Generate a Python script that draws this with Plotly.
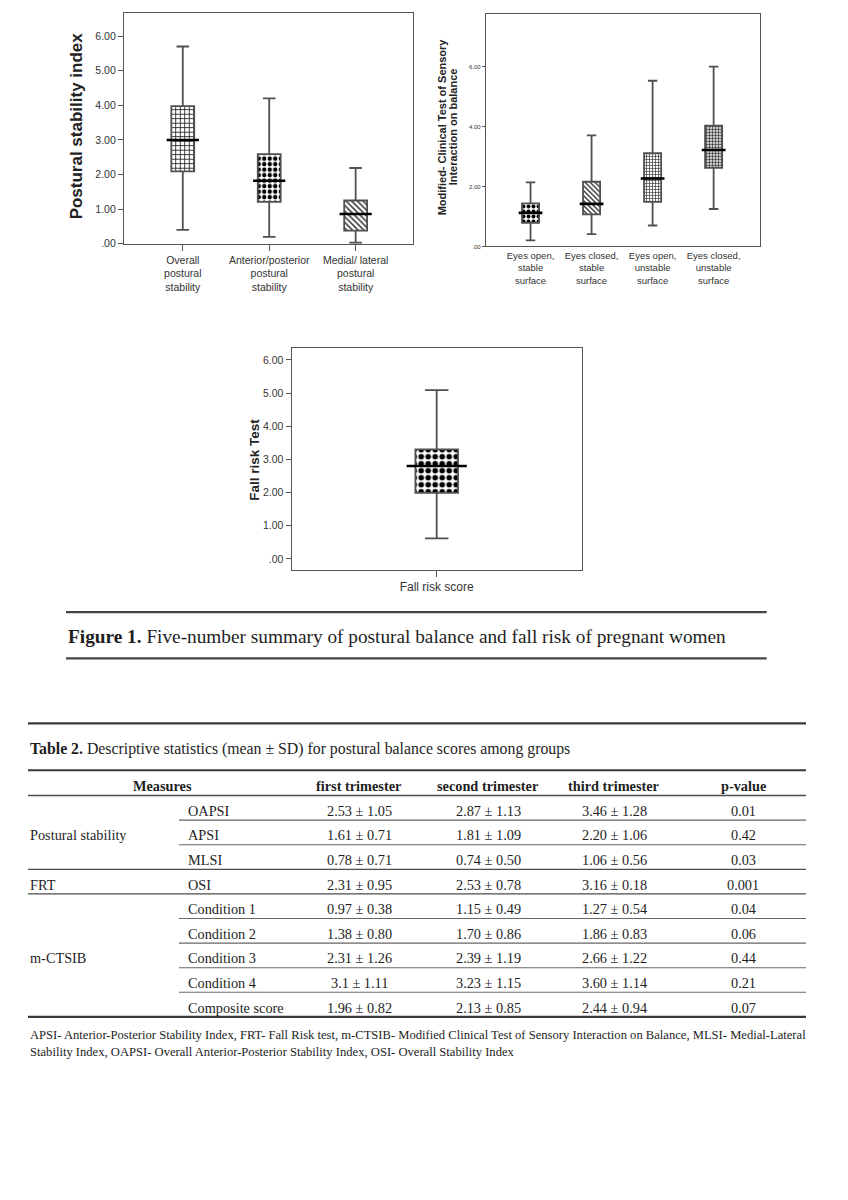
import plotly.graph_objects as go

# ---------------- data ----------------
# Chart 1: postural stability index
ps_cats = ["Overall<br>postural<br>stability",
           "Anterior/posterior<br>postural<br>stability",
           "Medial/ lateral<br>postural<br>stability"]
ps_min = [0.40, 0.20, 0.03]
ps_q1 = [2.09, 1.21, 0.38]
ps_med = [3.00, 1.82, 0.86]
ps_q3 = [3.98, 2.59, 1.25]
ps_max = [5.70, 4.20, 2.19]
ps_ticks = [0, 1, 2, 3, 4, 5, 6]
ps_ticktext = [".00", "1.00", "2.00", "3.00", "4.00", "5.00", "6.00"]

# Chart 2: m-CTSIB
ct_cats = ["Eyes open,<br>stable<br>surface",
           "Eyes closed,<br>stable<br>surface",
           "Eyes open,<br>unstable<br>surface",
           "Eyes closed,<br>unstable<br>surface"]
ct_min = [0.20, 0.41, 0.70, 1.25]
ct_q1 = [0.79, 1.07, 1.49, 2.62]
ct_med = [1.12, 1.42, 2.27, 3.22]
ct_q3 = [1.44, 2.16, 3.11, 4.03]
ct_max = [2.14, 3.71, 5.53, 6.00]
ct_ticks = [0, 2, 4, 6]
ct_ticktext = [".00", "2.00", "4.00", "6.00"]

# Chart 3: fall risk
fr_cats = ["Fall risk score"]
fr_min = [0.62]
fr_q1 = [1.99]
fr_med = [2.80]
fr_q3 = [3.30]
fr_max = [5.09]
fr_ticks = [0, 1, 2, 3, 4, 5, 6]
fr_ticktext = [".00", "1.00", "2.00", "3.00", "4.00", "5.00", "6.00"]

# Table 2
tbl_header = ["Measures", "first trimester", "second trimester", "third trimester", "p-value"]
tbl_groups = ["Postural stability", "FRT", "m-CTSIB"]
tbl_group_sizes = [3, 1, 5]
tbl_measures = ["OAPSI", "APSI", "MLSI", "OSI", "Condition 1", "Condition 2",
                "Condition 3", "Condition 4", "Composite score"]
tbl_first = ["2.53 ± 1.05", "1.61 ± 0.71", "0.78 ± 0.71", "2.31 ± 0.95", "0.97 ± 0.38",
             "1.38 ± 0.80", "2.31 ± 1.26", "3.1 ± 1.11", "1.96 ± 0.82"]
tbl_second = ["2.87 ± 1.13", "1.81 ± 1.09", "0.74 ± 0.50", "2.53 ± 0.78", "1.15 ± 0.49",
              "1.70 ± 0.86", "2.39 ± 1.19", "3.23 ± 1.15", "2.13 ± 0.85"]
tbl_third = ["3.46 ± 1.28", "2.20 ± 1.06", "1.06 ± 0.56", "3.16 ± 0.18", "1.27 ± 0.54",
             "1.86 ± 0.83", "2.66 ± 1.22", "3.60 ± 1.14", "2.44 ± 0.94"]
tbl_p = ["0.01", "0.42", "0.03", "0.001", "0.04", "0.06", "0.44", "0.21", "0.07"]

fig_caption = "<b>Figure 1.</b> Five-number summary of postural balance and fall risk of pregnant women"
tbl_title = "<b>Table 2.</b> Descriptive statistics (mean ± SD) for postural balance scores among groups"
tbl_foot = ["APSI- Anterior-Posterior Stability Index, FRT- Fall Risk test, m-CTSIB- Modified Clinical Test of Sensory Interaction on Balance, MLSI- Medial-Lateral",
            "Stability Index, OAPSI- Overall Anterior-Posterior Stability Index, OSI- Overall Stability Index"]

# ---------------- layout helpers ----------------
W, H = 848, 1200


def px(x):
    return x / W


def py(y):
    return 1 - y / H


SANS = "Liberation Sans"
SERIF = "Liberation Serif"
TXT = "#1e1e1e"
AX = "#555555"

fig = go.Figure()


def add_boxes(cats, mn, q1, med, q3, mx, patterns, xa, ya, wdata, wpx):
    # patterned fill of each box (q1..q3)
    for i, c in enumerate(cats):
        shape, size, sol, fg = patterns[i]
        fig.add_trace(go.Bar(
            x=[c], y=[q3[i] - q1[i]], base=[q1[i]], width=wdata,
            marker=dict(color="white", line=dict(width=0),
                        pattern=dict(shape=shape, size=size, solidity=sol,
                                     fgcolor=fg, fgopacity=1, bgcolor="white",
                                     fillmode="overlay")),
            xaxis=xa, yaxis=ya, showlegend=False, hoverinfo="skip"))
    fig.add_trace(go.Box(
        x=cats, q1=q1, median=med, q3=q3, lowerfence=mn, upperfence=mx,
        width=wdata, whiskerwidth=0.55, boxpoints=False,
        fillcolor="rgba(0,0,0,0)", line=dict(color="#505050", width=1.8),
        xaxis=xa, yaxis=ya, showlegend=False))
    fig.add_trace(go.Scatter(
        x=cats, y=med, mode="markers",
        marker=dict(symbol="line-ew", size=wpx, color="black",
                    line=dict(color="black", width=2.6)),
        xaxis=xa, yaxis=ya, showlegend=False, hoverinfo="skip"))


add_boxes(ps_cats, ps_min, ps_q1, ps_med, ps_q3, ps_max,
          [("+", 4.5, 0.35, "#222"), (".", 5.5, 0.5, "black"), ("\\", 4, 0.35, "#222")],
          "x", "y", 0.265, 23)
add_boxes(ct_cats, ct_min, ct_q1, ct_med, ct_q3, ct_max,
          [(".", 5, 0.5, "black"), ("\\", 3.5, 0.4, "#333"),
           ("+", 3, 0.4, "#333"), (".", 3, 0.5, "#333")],
          "x2", "y2", 0.28, 17)
add_boxes(fr_cats, fr_min, fr_q1, fr_med, fr_q3, fr_max,
          [(".", 7, 0.5, "black")],
          "x3", "y3", 0.147, 43)

axis_common = dict(showline=True, mirror=True, linecolor=AX, linewidth=1.3,
                   showgrid=False, zeroline=False, tickcolor=AX, fixedrange=True)

fig.update_layout(
    width=W, height=H, margin=dict(l=0, r=0, t=0, b=0),
    paper_bgcolor="white", plot_bgcolor="white",
    showlegend=False, barmode="overlay", boxmode="overlay",
    xaxis=dict(domain=[px(124), px(412.7)], anchor="y", type="category",
               range=[-0.68, 2.66], ticks="outside", ticklen=6,
               tickfont=dict(family=SANS, size=10.5, color="#333"), **axis_common),
    yaxis=dict(domain=[py(245), py(13)], anchor="x", range=[0, 6.67],
               tickvals=ps_ticks, ticktext=ps_ticktext, ticks="outside", ticklen=5,
               tickfont=dict(family=SANS, size=10.5, color="#333"), **axis_common),
    xaxis2=dict(domain=[px(486), px(760)], anchor="y2", type="category",
                range=[-0.73, 3.76], ticks="",
                tickfont=dict(family=SANS, size=9.5, color="#333"), **axis_common),
    yaxis2=dict(domain=[py(247.7), py(14)], anchor="x2", range=[0, 7.76],
                tickvals=ct_ticks, ticktext=ct_ticktext, ticks="outside", ticklen=3,
                tickfont=dict(family=SANS, size=6, color="#333"), **axis_common),
    xaxis3=dict(domain=[px(291.7), px(581.7)], anchor="y3", type="category",
                range=[-0.5, 0.5], ticks="outside", ticklen=6,
                tickfont=dict(family=SANS, size=12, color="#333"), **axis_common),
    yaxis3=dict(domain=[py(572.7), py(350)], anchor="x3", range=[-0.33, 6.35],
                tickvals=fr_ticks, ticktext=fr_ticktext, ticks="outside", ticklen=5,
                tickfont=dict(family=SANS, size=10.5, color="#333"), **axis_common),
)

ann = []


def text(x, y, s, size, family=SERIF, xanchor="left", angle=0, color=TXT):
    ann.append(dict(x=px(x), y=py(y), xref="paper", yref="paper", text=s,
                    showarrow=False, xanchor=xanchor, yanchor="middle",
                    textangle=angle, font=dict(family=family, size=size, color=color)))


# axis titles
text(76, 127, "<b>Postural stability index</b>", 17, SANS, "center", -90, "#222")
text(442, 128, "<b>Modified- Clinical Test of Sensory</b>", 11, SANS, "center", -90, "#222")
text(453, 128, "<b>Interaction on balance</b>", 11, SANS, "center", -90, "#222")
text(255, 462, "<b>Fall risk Test</b>", 13.5, SANS, "center", -90, "#222")

DY = 3  # vertical text offset correction

# figure caption
text(66, 637 + DY, fig_caption, 19.3)

# table title
text(28, 750 + DY, tbl_title, 15.8)

shapes = []


def hline(y, x0, x1, w, color="#4d4d4d"):
    shapes.append(dict(type="line", xref="paper", yref="paper",
                       x0=px(x0), x1=px(x1), y0=py(y), y1=py(y),
                       line=dict(color=color, width=w)))


hline(615.3, 66, 766.7, 2.2, "#444")
hline(661.7, 66, 766.7, 2.2, "#444")

T_L, T_R, T_SUB = 28, 806, 179
hline(727, T_L, T_R, 2.2, "#3a3a3a")
hline(774, T_L, T_R, 2.0, "#3a3a3a")

FS = 14.3
# header
hdr_y = 787 + DY
col_x = [162, 359, 488, 614, 743]
for cx, h in zip(col_x, tbl_header):
    text(cx, hdr_y, "<b>" + h + "</b>", FS, SERIF, "center")

row_top = 799.5
row_bottom = 1022
n_rows = len(tbl_measures)
rh = (row_bottom - row_top) / n_rows
hline(row_top, T_L, T_R, 1.3)

r = 0
for g, n in zip(tbl_groups, tbl_group_sizes):
    gy = row_top + (r + n / 2) * rh + DY
    text(28, gy, g, FS)
    for k in range(n):
        i = r + k
        cy = row_top + (i + 0.5) * rh + DY
        text(186, cy, tbl_measures[i], FS)
        text(col_x[1], cy, tbl_first[i], FS, SERIF, "center")
        text(col_x[2], cy, tbl_second[i], FS, SERIF, "center")
        text(col_x[3], cy, tbl_third[i], FS, SERIF, "center")
        text(col_x[4], cy, tbl_p[i], FS, SERIF, "center")
        ly = row_top + (i + 1) * rh
        if i == n_rows - 1:
            hline(ly, T_L, T_R, 2.4, "#3a3a3a")
        elif k == n - 1:
            hline(ly, T_L, T_R, 1.3)
        else:
            hline(ly, T_SUB, T_R, 1.1, "#666")
    r += n

text(28, 1037 + DY, tbl_foot[0], 12.6)
text(28, 1054 + DY, tbl_foot[1], 12.6)

fig.update_layout(annotations=ann, shapes=shapes)

fig.write_html("out.html", config={"displayModeBar": False},
               post_script="document.body.style.margin='0';")
